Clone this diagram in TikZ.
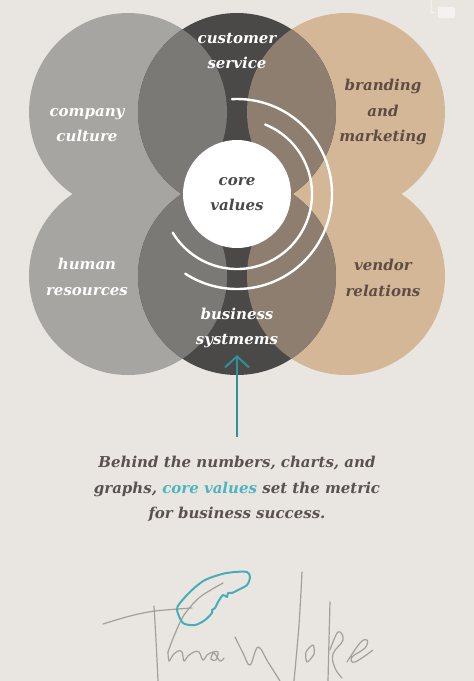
\documentclass[tikz,border=0pt]{standalone}
\usepackage{fontspec}
\setmainfont{DejaVu Serif}
\usetikzlibrary{arrows.meta}

\definecolor{paper}{HTML}{E9E6E2}
\definecolor{lightgrey}{HTML}{A6A5A1}
\definecolor{midgrey}{HTML}{7A7975}
\definecolor{darkgrey}{HTML}{4A4948}
\definecolor{sand}{HTML}{D3B797}
\definecolor{mocha}{HTML}{8D7E6F}
\definecolor{brownink}{HTML}{5E4C45}
\definecolor{captionink}{HTML}{5A5151}
\definecolor{tealink}{HTML}{2F9199}
\definecolor{lightteal}{HTML}{4DB5BF}
\definecolor{signink}{HTML}{A3A09C}

\begin{document}
\begin{tikzpicture}[x=1pt,y=-1pt]

      \tikzset{lbl/.style={align=center, inner sep=0pt, font=\fontsize{15}{25.5}\selectfont\bfseries\itshape},
               ring/.style={draw=white, line width=2.4pt, line cap=round},
               pointer/.style={draw=tealink, line width=2pt, -{Straight Barb[length=11pt, width=24pt, line width=2pt]}},
               sign/.style={draw=signink, line width=1.2pt, line cap=round, line join=round},
               feather/.style={draw=lightteal!80!tealink, line width=2pt, line join=round}}

%% Background
      \fill[paper] (0,0) rectangle (474,681);
      \useasboundingbox (0,0) rectangle (474,681);
      \fill[white, opacity=.5, rounded corners=2pt] (438,7) rectangle (455,18);
      \draw[white, opacity=.5, line width=1pt] (431,0) -- (431,12) -- (435,13);

%% Circles
      \coordinate (lt) at (128,112);
      \coordinate (lb) at (128,276);
      \coordinate (ct) at (237,112);
      \coordinate (cb) at (237,276);
      \coordinate (rt) at (346,112);
      \coordinate (rb) at (346,276);

      \fill[lightgrey] (lt) circle[radius=99pt] (lb) circle[radius=99pt];
      \fill[sand] (rt) circle[radius=99pt] (rb) circle[radius=99pt];
      \fill[darkgrey] (ct) circle[radius=99pt] (cb) circle[radius=99pt];
      \begin{scope}
        \clip (ct) circle[radius=99pt] (cb) circle[radius=99pt];
        \fill[midgrey] (lt) circle[radius=99pt] (lb) circle[radius=99pt];
        \fill[mocha] (rt) circle[radius=99pt] (rb) circle[radius=99pt];
      \end{scope}

%% Core and rings
      \node[lbl, circle, fill=white, minimum size=108pt, text=darkgrey] (core) at (237,194) {core\\values};
      \draw[ring] (core.center) ++(68:75pt) arc[start angle=68, end angle=-149, radius=75pt];
      \draw[ring] (core.center) ++(93:95pt) arc[start angle=93, end angle=-123, radius=95pt];

%% Labels
      \node[lbl, text=white] (service) at (237,51) {customer\\service};
      \node[lbl, text=white] (culture) at (87,125) {company\\culture};
      \node[lbl, text=white] (people) at (87,277) {human\\resources};
      \node[lbl, text=white] (systems) at (237,328) {business\\systmems};
      \node[lbl, text=brownink] (brand) at (383,112) {branding\\and\\marketing};
      \node[lbl, text=brownink] (vendor) at (383,278) {vendor\\relations};

%% Caption and arrow
      \node[lbl, text=captionink] (caption) at (237,489)
            {Behind the numbers, charts, and\\graphs, {\color{lightteal}core values} set the metric\\for business success.};
      \coordinate (tail) at (237,437);
      \coordinate (tip) at (237,355);
      \draw[pointer] (tail) -- (tip);

%% Signature
      \draw[sign] plot[smooth] coordinates {(103,624) (130,616) (155,611) (192,608)};
      \draw[sign] plot[smooth] coordinates {(154,606) (156,640) (158,681)};
      \draw[sign] plot[smooth] coordinates {(223,583) (200,597) (184,615) (174,636) (168,652)};
      \draw[sign] plot[smooth, tension=.6] coordinates {(168,652) (169,661) (173,655) (178,651) (182,652) (184,661) (188,656) (194,652) (199,652) (203,660) (207,655) (213,652) (218,652) (216,660) (211,659) (214,653) (220,661) (224,658)};
      \draw[feather] plot[smooth cycle, tension=.5] coordinates {(177,610) (180,603) (192,590) (205,580) (222,574) (235,572) (247,572) (250,577) (247,585) (238,590) (232,593) (228,593) (227,597) (223,595) (218,602) (215,608) (212,610) (212,613) (205,620) (195,625) (183,623)};
      \draw[sign] plot[smooth, tension=.6] coordinates {(235,637) (243,653) (250,665) (258,647) (268,662) (280,681)};
      \draw[sign] plot[smooth] coordinates {(302,572) (299,625) (294,681)};
      \draw[sign] plot[smooth cycle] coordinates {(313,645) (314,654) (307,662) (306,652)};
      \draw[sign] plot[smooth] coordinates {(330,602) (329,640) (328,681)};
      \draw[sign] plot[smooth, tension=.7] coordinates {(330,650) (338,632) (343,640) (333,654) (335,668) (342,678)};
      \draw[sign] plot[smooth, tension=.7] coordinates {(347,662) (360,643) (367,640) (365,648) (352,657) (355,662) (373,650)};
	\end{tikzpicture}
\end{document}
